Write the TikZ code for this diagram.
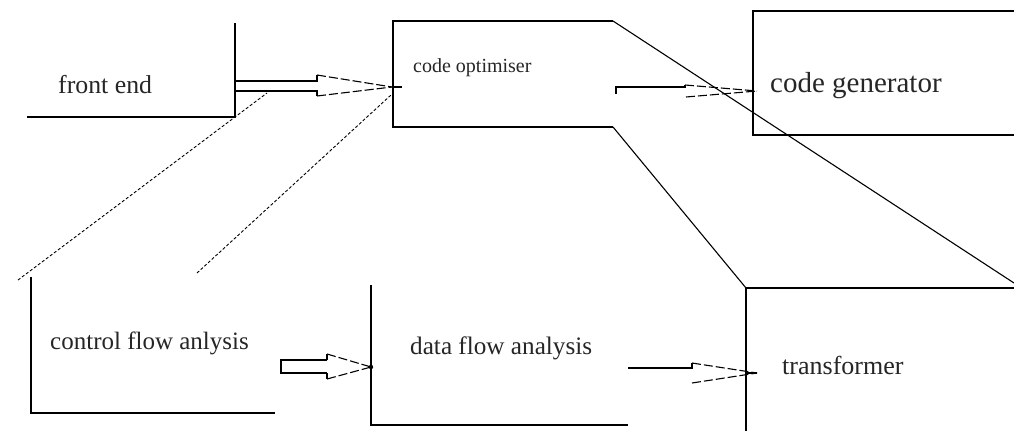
\documentclass[tikz,border=0pt]{standalone}
\usepackage{fontspec}
\setmainfont{Liberation Serif}
\begin{document}
\begin{tikzpicture}[x=1pt,y=-1pt,
  frame/.style={line width=1.3pt,line join=miter},
  thin/.style={line width=1.1pt},
  headline/.style={line width=1.1pt,dash pattern=on 9pt off 3pt},
  dotline/.style={line width=0.9pt,dash pattern=on 3pt off 2pt},
  lbl/.style={anchor=west,inner sep=0pt,text=black!85}]
\useasboundingbox[fill=white] (0,0) rectangle (1014,431);

% text nodes
\node[lbl,font=\fontsize{25.8}{30}\selectfont] (fe) at (58,85) {front end};
\node[lbl,font=\fontsize{20}{24}\selectfont] (co) at (413,68) {code optimiser};
\node[lbl,font=\fontsize{29}{34}\selectfont] (cg) at (770,86) {code generator};
\node[lbl,font=\fontsize{25}{30}\selectfont] (cf) at (50,343) {control flow anlysis};
\node[lbl,font=\fontsize{25.2}{30}\selectfont] (df) at (410,348) {data flow analysis};
\node[lbl,font=\fontsize{26}{31}\selectfont] (tr) at (782,365) {transformer};

% frames
\draw[frame] (235,23) -- (235,117) -- (27,117);
\draw[frame] (613,21) -- (393,21) -- (393,127) -- (613,127);
\draw[frame] (1014,11) -- (753,11) -- (753,135) -- (1014,135);
\draw[frame] (1014,288) -- (746,288) -- (746,431);
\draw[frame] (31,277) -- (31,413) -- (275,413);
\draw[frame] (371,285) -- (371,425) -- (628,425);

% named points
\coordinate (optTR) at (613,21);
\coordinate (optBR) at (613,127);
\coordinate (trTR) at (1014,283);
\coordinate (trTL) at (746,288);

% diagonals
\draw[thin] (optTR) -- (trTR);
\draw[thin] (optBR) -- (trTL);

% dotted links
\coordinate (d1a) at (18,280);
\coordinate (d1b) at (267,93);
\coordinate (d2a) at (197,273);
\coordinate (d2b) at (391,95);
\draw[dotline] (d1a) -- (d1b);
\draw[dotline] (d2a) -- (d2b);

% arrow 1: front end -> code optimiser
\draw[thin] (235,81) -- (317,81) -- (317,75);
\draw[thin] (235,91) -- (317,91) -- (317,96);
\draw[headline] (317,75) -- (392,87);
\draw[headline] (317,96) -- (392,87);
\draw[thin] (392,87) -- (402,87);

% arrow 2: code optimiser -> code generator
\draw[thin] (616,94) -- (616,87) -- (685,87) -- (685,85);
\draw[headline] (685,85) -- (757,91);
\draw[headline] (686,97) -- (757,91);

% arrow 3: control flow -> data flow
\draw[thin] (327,360) -- (281,360) -- (281,373) -- (327,373);
\draw[thin] (327,360) -- (327,354);
\draw[thin] (327,373) -- (327,379);
\draw[headline] (327,354) -- (371,367);
\draw[headline] (327,379) -- (371,367);
\fill (371,367) circle (2.2pt);

% arrow 4: data flow -> transformer
\draw[thin] (628,368) -- (692,368) -- (692,363);
\draw[headline] (692,363) -- (757,373);
\draw[headline] (692,383) -- (757,373);
\draw[line width=2.5pt] (746,373) -- (757,373);
\end{tikzpicture}
\end{document}
